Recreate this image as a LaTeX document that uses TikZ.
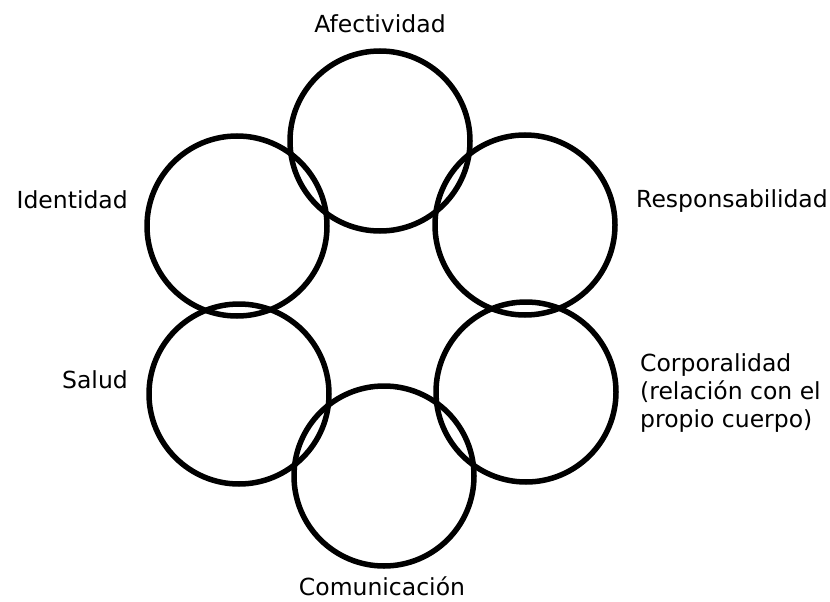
\documentclass[tikz,border=0pt]{standalone}
\usepackage{fontspec}
\setmainfont{DejaVu Sans}

\begin{document}
\begin{tikzpicture}[x=1pt,y=-1pt]
    % circle radius and text style
    \def\r{90}
    \tikzset{ring/.style={line width=5.5pt},
             lbl/.style={inner sep=0pt,font=\fontsize{23.5}{28}\selectfont}}
    \useasboundingbox (0,0) rectangle (830,602);

    % centres of the six circles
    \coordinate (Af) at (380,141);
    \coordinate (Id) at (237,226);
    \coordinate (Re) at (525,225);
    \coordinate (Sa) at (239,394);
    \coordinate (Co) at (526,392);
    \coordinate (Cm) at (384,476);

    % circles
    \foreach \c in {Af,Id,Re,Sa,Co,Cm}
        \draw[ring] (\c) circle (\r);

    % labels
    \node[lbl,anchor=base] (afl) at (380,33) {Afectividad};
    \node[lbl,anchor=base east] (idl) at (128,208) {Identidad};
    \node[lbl,anchor=base west] (rel) at (636,207) {Responsabilidad};
    \node[lbl,anchor=base east] (sal) at (128,388) {Salud};
    \node[lbl,anchor=north west,align=left] (col) at (640,353)
        {Corporalidad\\(relación con el\\propio cuerpo)};
    \node[lbl,anchor=base] (cml) at (382,595) {Comunicación};

\end{tikzpicture}
\end{document}
